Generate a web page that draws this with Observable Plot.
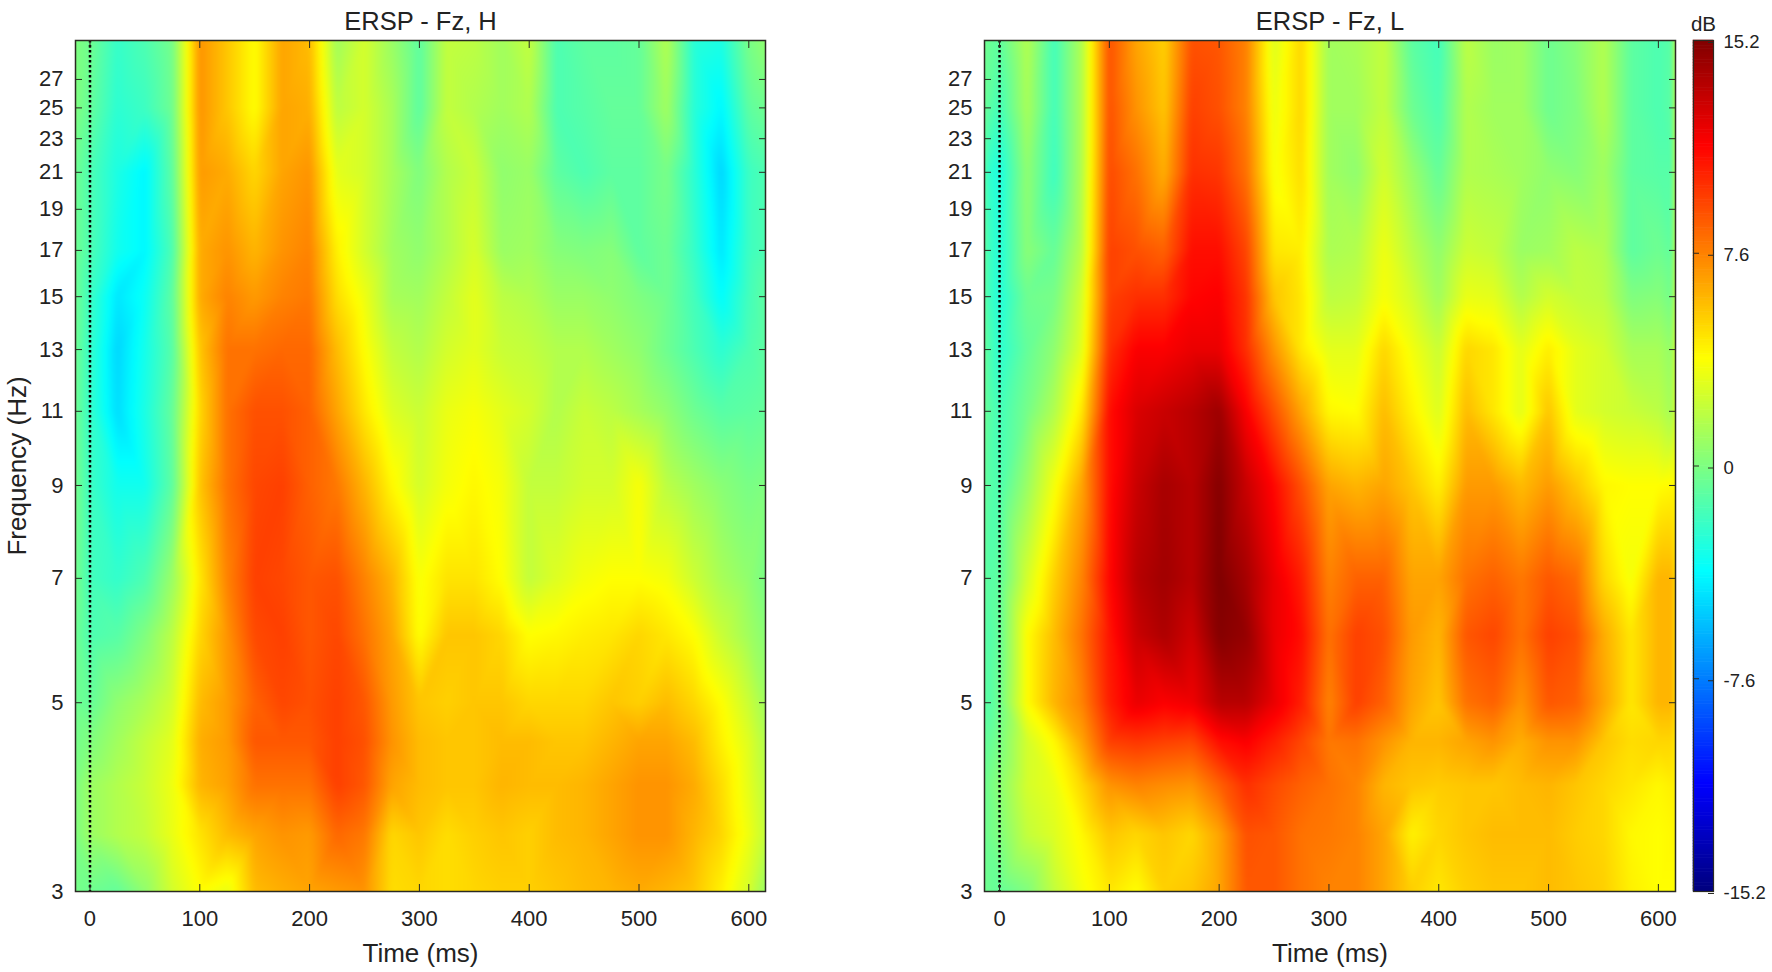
<!DOCTYPE html>
<html>
<head>
<meta charset="utf-8">
<script src="https://cdn.jsdelivr.net/npm/d3@7"></script>
<script src="https://cdn.jsdelivr.net/npm/@observablehq/plot@0.6"></script>
<style>
  html, body { margin: 0; background: #fff; overflow: hidden; }
  .panel { position: absolute; top: 0; }
</style>
</head>
<body>
<div class="panel" id="left" style="left:0"></div>
<div class="panel" id="right" style="left:909px"></div>
<div class="panel" id="bar" style="left:1680px"></div>
<script>
// values (dB), one row per frequency, one column per time
const times = [-13,0,25,50,75,100,125,150,175,200,225,250,275,300,325,350,375,400,425,450,475,500,525,550,575,600,615];
const freqs = [30,25,21,17,15,13,11,9,7,6,5,4.5,4,3.5,3];

const ersH = [
  [0,-0.5,-2.2,-1.5,-0.3,7,5.5,3.8,6.5,5.8,1,2.5,0.8,-1,2,1.8,1,2,-1.5,-1,-1,-0.8,1.5,-2.6,-3,-0.2,0.5],
  [0,-0.8,-2.5,-2,-0.5,7,5.5,3.8,6.5,6.2,1.8,2.5,1.2,-1,2,1.5,1,1.5,-1.5,-1.2,-0.8,-0.8,1,-2.6,-4,-1,-0.5],
  [-0.5,-1.5,-3,-4,-1,6.8,6.3,5,6.5,7,3,2.5,1.2,0,1.5,2.2,0.5,0.8,-1,-1.5,-1,-1,-0.2,-2.5,-5,-2,-1.5],
  [-0.5,-1.5,-3.3,-4,-1.5,6.3,7,6,7,7.5,4.2,2.5,1,0.5,1.5,2.6,0.8,1,0.2,0,0.2,-1,-0.5,-2.2,-4.5,-2,-1.5],
  [-0.5,-2,-4.5,-3.5,-1,6.3,7.5,6.8,7.5,7.8,4.8,3.3,1.2,1,2,3,1.8,1.5,0.8,0.8,0.5,0,-0.5,-1.8,-3.8,-1.8,-1],
  [-0.5,-2.2,-5,-3.2,-1.2,5.5,8,8,8.3,8.3,5.8,3.8,2,1.5,2.5,3,2.2,2,1.5,1.5,1,0.5,-0.5,-1.5,-2.5,-1.5,-1],
  [-0.5,-2.2,-4.8,-3,-0.8,5,8,9,9,8.5,6.5,4.5,2.8,2.2,3.2,3.6,3,2.5,1.5,2.2,1.8,1.2,0.5,-0.5,-1.2,-1,-0.8],
  [-0.3,-2,-3.3,-3.3,-1,5.5,8,9.3,9.5,8.5,7.8,6,4,2.5,3.5,4,3.5,2,2,2.5,2.5,3.6,1.8,1,0.3,-0.2,0],
  [-0.3,-1.8,-2.3,-1.5,0.8,4.5,7.5,9.5,9.3,8.8,9,7.5,6,3.6,4.6,4.6,3.8,2,2.8,3.5,3.8,3.8,3.5,2.3,1.2,0.5,-0.2],
  [-0.5,-1.5,-1.2,0,1.8,5,7,9.2,9.5,8.8,9.3,8,6.5,3.8,5.5,5.5,5,3.8,4,4.3,4.5,5,4.5,3.8,2.2,1,0.3],
  [-0.5,-0.8,0.5,1.3,2.5,5.8,6.8,8.5,9.3,9,9.5,8.8,6.8,5.5,5.2,5.5,5.5,5,5,5,5.5,5.2,5.8,5,3.8,2.2,1],
  [-0.3,0,1,2,3,6.2,6.8,8.8,8.8,8.8,9.5,9,7,5.8,5.5,5.5,5.8,5.8,5.5,5.5,6,6.5,6.5,5.8,4.2,2.8,1.5],
  [0,0.8,1.5,2.2,3.3,6,6.6,8,8,8,9.5,8.8,6.5,5.8,5.5,5.5,6,5.8,5.8,6,6.5,7,7,6.3,4.8,3,1.8],
  [0,0.8,1.5,2,3.2,4.6,5.8,6.5,7,6.8,8.3,7.8,5,5.5,4.8,5.2,5.5,5.2,5.8,6,6.5,7,7,6,5,3.3,2],
  [-0.3,-0.5,-0.8,0.5,2.5,3.8,3.2,5.8,6.2,6.5,6.8,7,4.8,5,4.8,5,5.2,5.2,5.5,5.8,6,6.3,6,5.5,4.2,2.5,0.8]
];

const ersL = [
  [-0.5,-1,1.5,-1.8,1.5,9,6.5,5.2,9,8.8,7.5,2.8,5,1,1.2,2,-1,-1.8,1.8,0.8,1,-0.5,0.2,1.5,-1,-1.5,-1],
  [-0.8,-1.8,1.2,-1.8,1.5,9,7,5.5,9.5,9,7.5,3.2,5,1,1,2,-0.5,-1.5,1.5,1,1,-0.5,0,1.5,-1,-1.5,-1],
  [-2,-3,0.5,-2,1.5,9.2,8,6.2,10,9.8,8,3.5,4.8,1,0.5,2.5,0.8,-0.8,1.5,1.3,1,0.5,0.2,1,-1,-1.2,-1.2],
  [-1.5,-2.8,0.3,-0.8,1.8,9.5,9,8.5,11,11,9.3,4.5,4.3,1.3,1.5,3.3,1.8,0.5,2.3,2,0.8,1,1.8,1.5,-1,-0.5,-1],
  [-1.5,-2.8,-0.5,-0.2,2.5,9.5,10,10,11.3,11.5,9.8,5.5,4.5,1.8,2,3.6,2.5,1,3.2,3,1.5,2.5,2,1.8,0,0.2,-0.5],
  [-1,-2.5,-0.8,0.5,3,10,11.5,11.5,12,12,10,7,4.5,3,3,5,3.5,2.2,5,4.5,3,4.3,3,2.5,1.2,1.2,0.5],
  [-0.8,-1.8,-0.3,1.5,4.5,11,12.5,13,13.5,14.3,11.5,9,6.5,4,3.8,5.8,4.2,2.8,5.8,4.5,3,5.5,3,2.5,2.2,1.8,1],
  [-1,-1.5,0.8,3.5,6.5,11,13,14,13.5,15,13,11.2,9,6.5,6,6.5,5.5,4.2,6.8,6.8,5.8,6.8,5.5,4,3.8,3.8,4],
  [-1.2,-1,2.5,5.2,7.5,11.2,13.5,14.2,13.5,15.2,14,12,10.5,7.5,8.5,8.5,6.5,6.5,8,8.5,7.8,8.8,8.2,5,3.5,6,6],
  [-1.5,-0.8,3.8,5.8,8,10.8,13,13.8,12.8,15,14.5,12,11,8,9.5,9,6.8,6,8.8,9.3,8,9.5,9,6.3,4.5,6,6],
  [-1.5,-0.5,3.8,6,7.5,10.5,12,11.5,11.8,13.5,13.5,12,10.5,7.5,9.5,8.5,6.5,5.5,8,8.5,7,8.8,8.5,6.5,4.5,6,6],
  [-1,-0.2,2.5,4,6.5,9.5,9.8,9.5,9.3,11,11.5,10.5,9.3,7.8,8,7,6,6,6.5,7,6.2,7,7,5.5,4.8,5,5],
  [-0.5,0.3,2.5,3.2,5,7,7.5,7.2,7,8.5,10,9.2,8.5,8,7.5,6,5.5,5.3,5.5,5.5,5.8,6,5.5,5,4.5,4,4.3],
  [-0.5,0,2,2.8,4,5.5,5,5.5,5,6.5,9,8.8,8,7.8,7.5,6.5,4.2,5,5.5,5.8,5.8,5.8,5.3,5,4,3.8,4],
  [-0.5,-0.8,0,2,3.5,4.5,3.8,5.2,5.5,6.5,8.8,8.8,8,7.5,7.5,6.5,5.2,4.5,5.2,5.5,5.5,5.8,5.5,5.2,4.2,3.8,3.8]
];

const xTicks = [0,100,200,300,400,500,600];
const yTicks = [3,5,7,9,11,13,15,17,19,21,23,25,27];
const barTicks = [-15.2,-7.6,0,7.6,15.2];

// jet colormap
const colorStops = [-15.2,-11.4,-3.8,3.8,11.4,15.2];
const colorRange = ["#00007f","#0000ff","#00ffff","#ffff00","#ff0000","#7f0000"];
const color = {type: "linear", domain: colorStops, range: colorRange, interpolate: "rgb", clamp: true};

const ink = "#2a2a22";
const font = {fontFamily: "'Liberation Sans', Arial, sans-serif", background: "transparent", color: "#222"};

function panel(rows, title, xDomain, width, yLabel) {
  const points = [];
  rows.forEach((row, i) => row.forEach((v, j) => points.push({t: times[j], f: freqs[i], v})));
  const marks = [
    Plot.raster(points, {x: "t", y: "f", fill: "v", interpolate: "barycentric", pixelSize: 1, blur: 2}),
    Plot.ruleX([0], {stroke: "#000", strokeWidth: 2.5, strokeDasharray: "2.5 2.5"}),
    Plot.axisX(xTicks, {anchor: "bottom", label: null, tickSize: -7, tickPadding: 26, fontSize: 22, stroke: ink, tickFormat: d => String(d)}),
    Plot.axisX(xTicks, {anchor: "top", label: null, tickSize: -7, tickFormat: () => "", stroke: ink}),
    Plot.axisY(yTicks, {anchor: "left", label: null, tickSize: -7, tickPadding: 19, fontSize: 22, stroke: ink, tickFormat: d => String(d)}),
    Plot.axisY(yTicks, {anchor: "right", label: null, tickSize: -7, tickFormat: () => "", stroke: ink}),
    Plot.frame({stroke: ink, strokeWidth: 1.5}),
    Plot.text([title], {frameAnchor: "top", dy: -29, fontSize: 25.5}),
    Plot.text(["Time (ms)"], {frameAnchor: "bottom", dy: 70, fontSize: 26})
  ];
  if (yLabel) marks.push(Plot.text([yLabel], {frameAnchor: "left", textAnchor: "middle", dx: -58, rotate: -90, fontSize: 26}));
  return Plot.plot({
    width, height: 972,
    marginLeft: 75, marginRight: 35, marginTop: 40, marginBottom: 81,
    style: font,
    x: {domain: xDomain, axis: null},
    y: {type: "log", domain: [3, 30], axis: null},
    color,
    marks
  });
}

document.querySelector("#left").append(panel(ersH, "ERSP - Fz, H", [-13.2, 615.2], 800, "Frequency (Hz)"));
document.querySelector("#right").append(panel(ersL, "ERSP - Fz, L", [-13.7, 615.6], 801));

// colorbar
const levels = d3.range(-15.2, 15.2, 0.1);
document.querySelector("#bar").append(Plot.plot({
  width: 92, height: 972,
  marginLeft: 13, marginRight: 59, marginTop: 40, marginBottom: 81,
  style: font,
  x: {domain: [0, 1], axis: null},
  y: {domain: [-15.2, 15.2], axis: null},
  color,
  marks: [
    Plot.rect(levels, {x1: 0, x2: 1, y1: d => d, y2: d => d + 0.1, fill: d => d, inset: -0.3}),
    Plot.axisY(barTicks, {anchor: "left", label: null, tickSize: -6, tickFormat: () => "", stroke: ink}),
    Plot.axisY(barTicks, {anchor: "right", label: null, tickSize: -6, tickPadding: 16, dy: 2, fontSize: 18.5, stroke: ink, tickFormat: d => String(d)}),
    Plot.frame({stroke: ink, strokeWidth: 1.2}),
    Plot.text(["dB"], {frameAnchor: "top", dy: -24, fontSize: 20.5})
  ]
}));
</script>
</body>
</html>
